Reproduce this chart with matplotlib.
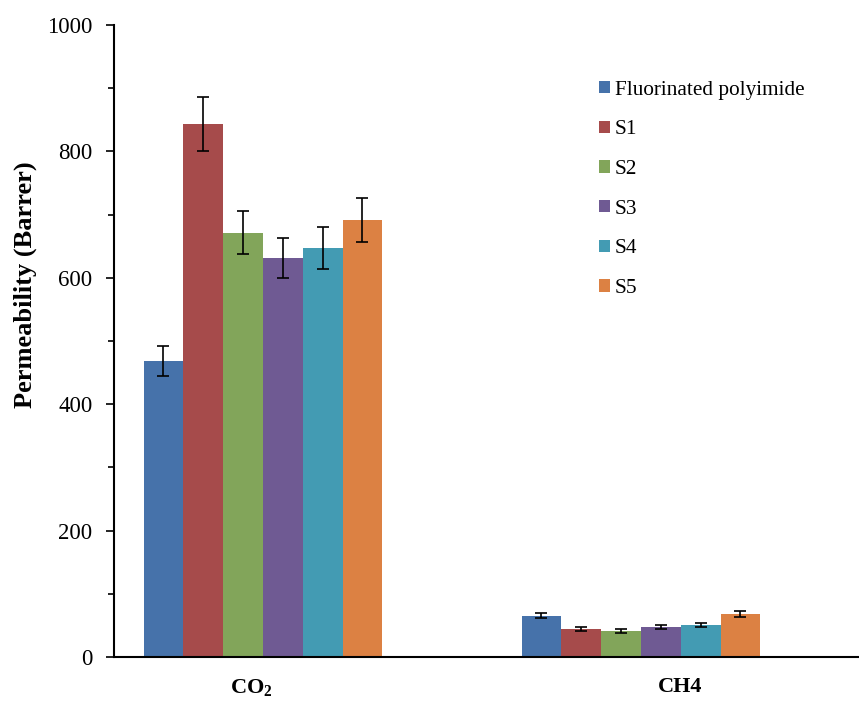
import matplotlib
matplotlib.use("Agg")
import matplotlib.pyplot as plt
import numpy as np
from matplotlib.ticker import MultipleLocator

plt.rcParams['font.family'] = ['Liberation Serif', 'DejaVu Serif']
plt.rcParams['mathtext.fontset'] = 'custom'
plt.rcParams['mathtext.rm'] = 'Liberation Serif'
plt.rcParams['mathtext.bf'] = 'Liberation Serif:bold'
plt.rcParams['mathtext.default'] = 'bf'

categories = ["CO$_2$", "CH4"]
series = ["Fluorinated polyimide", "S1", "S2", "S3", "S4", "S5"]
values = {
    "Fluorinated polyimide": [468, 65],
    "S1": [843, 44],
    "S2": [671, 41],
    "S3": [631, 47],
    "S4": [647, 51],
    "S5": [691, 68],
}
errors = {
    "Fluorinated polyimide": [24, 4],
    "S1": [43, 3],
    "S2": [34, 3],
    "S3": [32, 3],
    "S4": [33, 3],
    "S5": [35, 4],
}
colors = ["#4672AA", "#A64B4B", "#82A55A", "#6F5A93", "#439BB3", "#DC8143"]

fig = plt.figure(figsize=(8.59, 7.02), dpi=100)
ax = fig.add_axes([114/859, 1-657/702, (859-114)/859, (657-25)/702])

x = np.arange(len(categories))
w = 0.1053
for i, s in enumerate(series):
    pos = x + (i - 2.5) * w
    ax.bar(pos, values[s], width=w, color=colors[i], label=s,
           yerr=errors[s], capsize=4, error_kw=dict(ecolor='black', elinewidth=1.2, capthick=1.2))

ax.set_xlim(-0.394, 1.577)
ax.set_ylim(0, 1000)
ax.yaxis.set_major_locator(MultipleLocator(200))
ax.yaxis.set_minor_locator(MultipleLocator(100))
ax.tick_params(axis='y', which='major', direction='out', length=6, width=1.2, labelsize=16.5, pad=9.5)
ax.tick_params(axis='y', which='minor', direction='out', length=4, width=1.2)
label_offsets = [-0.032, 0.103]
ax.set_xticks(x + np.array(label_offsets))
ax.set_xticklabels(categories, fontsize=16, fontweight='bold')
ax.tick_params(axis='x', length=0, pad=14.5)
for sp in ['top', 'right']:
    ax.spines[sp].set_visible(False)
ax.spines['left'].set_linewidth(1.5)
ax.spines['bottom'].set_linewidth(1.5)
ax.set_ylabel("Permeability (Barrer)", fontsize=19, fontweight='bold')
ax.yaxis.set_label_coords(-0.103, 0.589)

ax.legend(loc='upper left', bbox_to_anchor=(0.6258, 0.942), frameon=False, fontsize=15.3,
          handlelength=0.52, handleheight=0.52, handletextpad=0.2, labelspacing=0.97)

fig.savefig("out.png", dpi=100)
